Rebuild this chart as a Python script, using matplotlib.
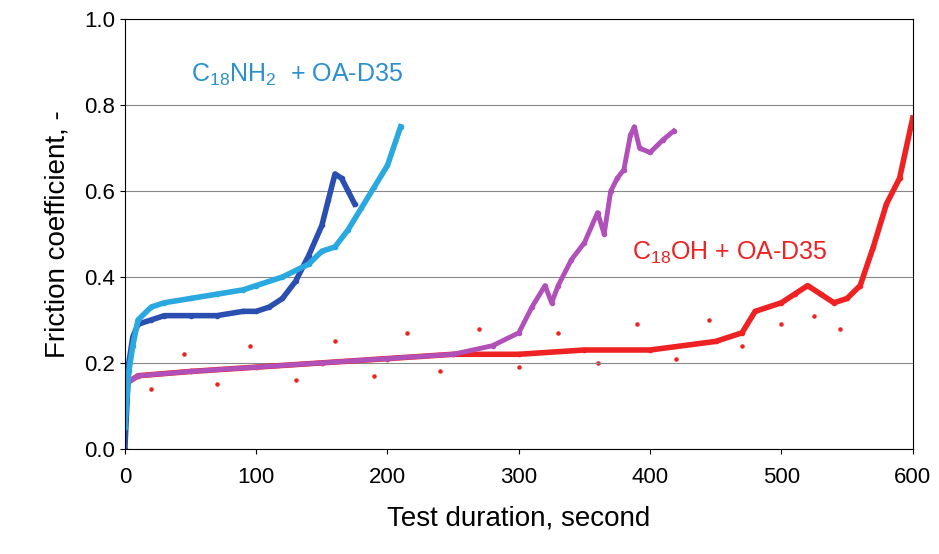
import matplotlib.pyplot as plt

plt.rcParams['font.family'] = ['Liberation Sans', 'DejaVu Sans']
plt.rcParams['mathtext.fontset'] = 'custom'
plt.rcParams['mathtext.rm'] = 'Liberation Sans'

# C18NH2 + OA-D35, run 1 (dark blue)
t_nh2_a = [0, 3, 6, 10, 20, 30, 50, 70, 90, 100, 110, 120, 130, 140, 150, 155, 160, 165, 170, 175]
f_nh2_a = [0.0, 0.2, 0.26, 0.29, 0.30, 0.31, 0.31, 0.31, 0.32, 0.32, 0.33, 0.35, 0.39, 0.45, 0.52, 0.58, 0.64, 0.63, 0.60, 0.57]
# C18NH2 + OA-D35, run 2 (light blue)
t_nh2_b = [0, 3, 6, 10, 20, 30, 50, 70, 90, 100, 120, 140, 150, 160, 170, 180, 190, 200, 210]
f_nh2_b = [0.05, 0.18, 0.24, 0.30, 0.33, 0.34, 0.35, 0.36, 0.37, 0.38, 0.40, 0.43, 0.46, 0.47, 0.51, 0.56, 0.61, 0.66, 0.75]
# second run (purple)
t_pur = [0, 10, 50, 100, 150, 200, 250, 280, 300, 310, 320, 325, 330, 340, 350, 360, 365, 370, 375, 380, 385, 388, 392, 400, 410, 418]
f_pur = [0.15, 0.17, 0.18, 0.19, 0.20, 0.21, 0.22, 0.24, 0.27, 0.33, 0.38, 0.34, 0.38, 0.44, 0.48, 0.55, 0.50, 0.60, 0.63, 0.65, 0.73, 0.75, 0.70, 0.69, 0.72, 0.74]
# C18OH + OA-D35 (red)
t_oh = [0, 10, 50, 100, 150, 200, 250, 300, 350, 400, 450, 470, 480, 500, 510, 520, 530, 540, 550, 560, 570, 580, 590, 600]
f_oh = [0.15, 0.17, 0.18, 0.19, 0.20, 0.21, 0.22, 0.22, 0.23, 0.23, 0.25, 0.27, 0.32, 0.34, 0.36, 0.38, 0.36, 0.34, 0.35, 0.38, 0.47, 0.57, 0.63, 0.77]
# scattered red outliers
t_oh_out = [20, 45, 70, 95, 130, 160, 190, 215, 240, 270, 300, 330, 360, 390, 420, 445, 470, 500, 525, 545]
f_oh_out = [0.14, 0.22, 0.15, 0.24, 0.16, 0.25, 0.17, 0.27, 0.18, 0.28, 0.19, 0.27, 0.20, 0.29, 0.21, 0.30, 0.24, 0.29, 0.31, 0.28]

fig, ax = plt.subplots(figsize=(9.39, 5.54), dpi=100)
fig.subplots_adjust(left=0.133, right=0.972, top=0.965, bottom=0.19)

ax.plot(t_oh, f_oh, color='#ee2222', lw=4, marker='o', ms=3)
ax.scatter(t_oh_out, f_oh_out, color='#ee2222', s=5)
ax.plot(t_pur, f_pur, color='#b050b8', lw=3.5, marker='o', ms=3)
ax.plot(t_nh2_a, f_nh2_a, color='#2a4fb0', lw=4, marker='o', ms=3)
ax.plot(t_nh2_b, f_nh2_b, color='#2aa8e0', lw=4, marker='o', ms=3)

ax.text(50, 0.855, 'C$_{18}$NH$_2$  + OA-D35', color='#2a90d0', fontsize=18)
ax.text(386, 0.44, 'C$_{18}$OH + OA-D35', color='#ee2222', fontsize=18)

ax.set_xlim(0, 600)
ax.set_ylim(0, 1.0)
ax.set_xticks(range(0, 601, 100))
ax.set_yticks([0, 0.2, 0.4, 0.6, 0.8, 1.0])
ax.set_yticklabels(['0.0', '0.2', '0.4', '0.6', '0.8', '1.0'])
ax.tick_params(labelsize=16)
ax.tick_params(axis='x', pad=10)
ax.yaxis.grid(True, color='#888888', lw=0.8)
ax.set_xlabel('Test duration, second', fontsize=20, labelpad=12)
ax.set_ylabel('Friction coefficient, -', fontsize=20, labelpad=10)

fig.savefig('out.png')
